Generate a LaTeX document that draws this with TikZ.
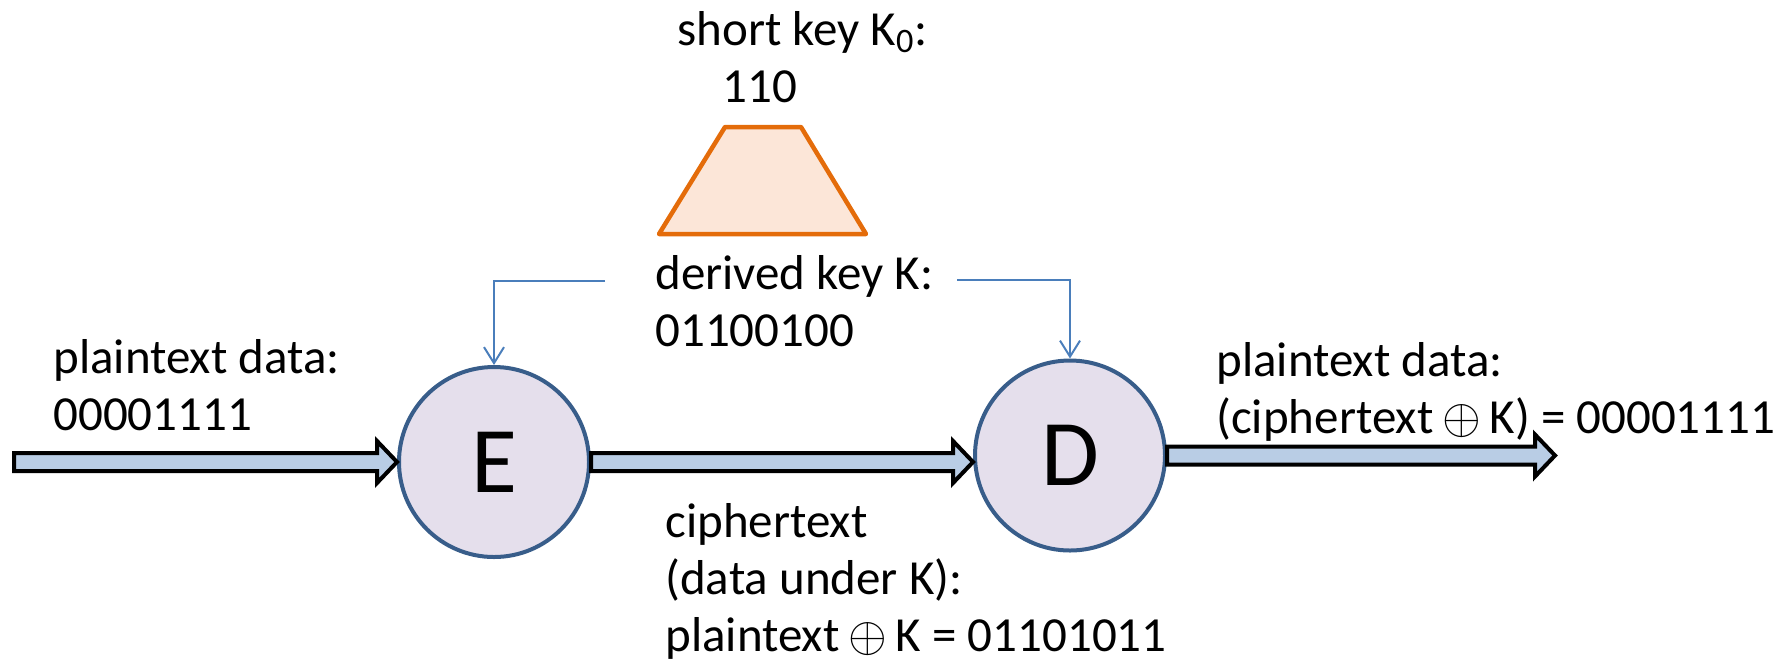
\documentclass[tikz,border=0pt]{standalone}
\usepackage{fontspec}
\setmainfont{Carlito}
\usepackage{tikz}
\usetikzlibrary{calc}
\usetikzlibrary{arrows.meta}
\definecolor{cryptblue}{HTML}{385D8A}
\definecolor{cryptlav}{HTML}{E5DFEC}
\definecolor{pipefill}{HTML}{B9CDE5}
\definecolor{keyblue}{HTML}{4A7EBB}
\definecolor{kdforange}{HTML}{E46C0A}
\definecolor{kdffill}{HTML}{FCE6D8}
\tikzset{
    cipher/.style={circle,draw=cryptblue,fill=cryptlav,line width=2pt,minimum size=95pt,inner sep=0pt,font=\fontsize{47}{50}\selectfont},
    lbl/.style={anchor=base west,inner sep=0pt,align=left,font=\fontsize{24.5}{28.5}\selectfont},
    pipe/.style={draw=black,fill=pipefill,line width=2pt,line join=miter},
    keyline/.style={draw=keyblue,line width=1pt,-{Straight Barb[length=8pt,width=10pt]}},
    kdf/.style={draw=kdforange,fill=kdffill,line width=2.25pt,line join=round}
}
\newcommand{\xor}{\makebox[17pt]{\scalebox{1.0}{$\oplus$}}}
\newcommand{\blockarrow}[2]{%
  \draw[pipe] let \p1=(#1), \p2=(#2) in
    (\x1,\y1+4.5pt) -- (\x2-10pt,\y1+4.5pt) -- (\x2-10pt,\y1+10.5pt) -- (\x2,\y1)
    -- (\x2-10pt,\y1-10.5pt) -- (\x2-10pt,\y1-4.5pt) -- (\x1,\y1-4.5pt) -- cycle;}

\begin{document}
\begin{tikzpicture}[x=0.5pt,y=-0.5pt]
\useasboundingbox (0,0) rectangle (1781,660);
\draw[kdf] (659,234) -- (725,127) -- (801,127) -- (866,234) -- cycle;
\node[lbl] (shortkey) at (677,102) {short key K\textsubscript{0}:\\\hspace*{22.5pt}110};
\node[lbl] (dkey) at (655,346) {derived key K:\\01100100};
\node[cipher] (E) at (494,462) {E};
\node[cipher] (D) at (1070,455.5) {D};
\node[lbl] (ptin) at (53,430) {plaintext data:\\00001111};
\node[lbl] (ptout) at (1216,433) {plaintext data:\\(ciphertext \xor{} K) = 00001111};
\node[lbl] (ctext) at (665,651) {ciphertext\\(data under K):\\plaintext \xor{} K = 01101011};
\coordinate (din) at (14,462);
\coordinate (dout) at (1555,456);
\coordinate (kl) at (605,281);
\coordinate (kr) at (957,280);
\blockarrow{din}{E.west}
\blockarrow{E.east}{E.east -| D.west}
\blockarrow{D.east}{dout}
\draw[keyline] (kl) -| (E.north);
\draw[keyline] (kr) -| (D.north);
\end{tikzpicture}
\end{document}
